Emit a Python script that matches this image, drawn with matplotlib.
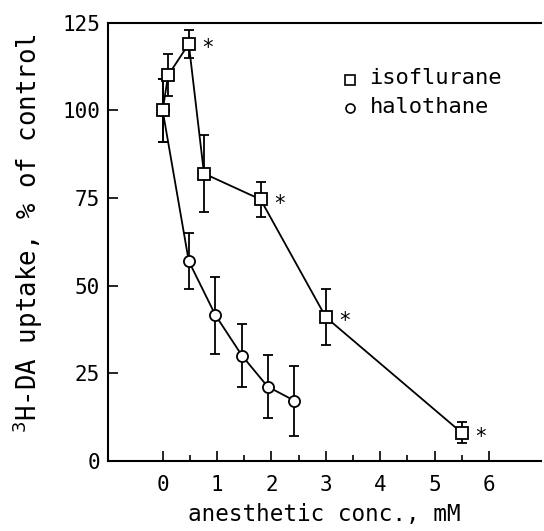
import matplotlib
matplotlib.use("Agg")
import matplotlib.pyplot as plt
from matplotlib.ticker import FixedLocator

iso_x = [0, 0.1, 0.48, 0.76, 1.8, 3.0, 5.5]
iso_y = [100, 110, 119, 82, 74.6, 41, 8]
iso_err = [9, 6, 4, 11, 5, 8, 3]
iso_star = [False, False, True, False, True, True, True]

hal_x = [0, 0.48, 0.97, 1.46, 1.93, 2.42]
hal_y = [100, 57, 41.6, 30, 21.2, 17.2]
hal_err = [9, 8, 11, 9, 9, 10]

xticks = [0, 1, 2, 3, 4, 5, 6]
yticks = [0, 25, 50, 75, 100, 125]

plt.rcParams['font.family'] = ['DejaVu Sans Mono']

fig = plt.figure(figsize=(5.44, 5.31), dpi=100)
ax = fig.add_axes([0.199, 0.132, 0.795, 0.825])

ax.errorbar(hal_x, hal_y, yerr=hal_err, color='black', lw=1.3, elinewidth=1.3,
            capsize=3.5, capthick=1.3, marker='o', ms=8, mfc='white', mec='black',
            mew=1.3, zorder=3)
ax.errorbar(iso_x, iso_y, yerr=iso_err, color='black', lw=1.3, elinewidth=1.3,
            capsize=3.5, capthick=1.3, marker='s', ms=8, mfc='white', mec='black',
            mew=1.3, zorder=4)

for x, y, s in zip(iso_x, iso_y, iso_star):
    if s:
        ax.annotate('*', (x, y), xytext=(9, -3), textcoords='offset points',
                    fontsize=15, ha='left', va='center')

# legend
ax.plot([3.44], [108.8], marker='s', ms=6.5, mfc='white', mec='black', mew=1.2, ls='none')
ax.plot([3.44], [100.6], marker='o', ms=6.5, mfc='white', mec='black', mew=1.2, ls='none')
ax.text(3.8, 109.3, 'isoflurane', fontsize=15.8, va='center', ha='left')
ax.text(3.8, 101.1, 'halothane', fontsize=15.8, va='center', ha='left')

ax.set_xlim(-1, 6.95)
ax.set_ylim(0, 125)
ax.set_xticks(xticks)
ax.set_yticks(yticks)
ax.xaxis.set_minor_locator(FixedLocator([0.5, 1.5, 2.5, 3.5, 4.5, 5.5]))
ax.tick_params(axis='both', which='major', direction='in', length=7, width=1.2,
               labelsize=15)
ax.tick_params(axis='x', which='minor', direction='in', length=4, width=1.2)
ax.tick_params(axis='x', pad=10)
ax.tick_params(axis='y', pad=6)
ax.spines['right'].set_visible(False)
for sp in ['left', 'top', 'bottom']:
    ax.spines[sp].set_linewidth(1.5)

ax.set_xlabel('anesthetic conc., mM', fontsize=16.3, labelpad=6)
ax.set_ylabel(r'$^{3}$H-DA uptake, % of control', fontsize=18.5)
ax.yaxis.set_label_coords(-0.147, 0.52)

fig.savefig('out.png', dpi=100)
